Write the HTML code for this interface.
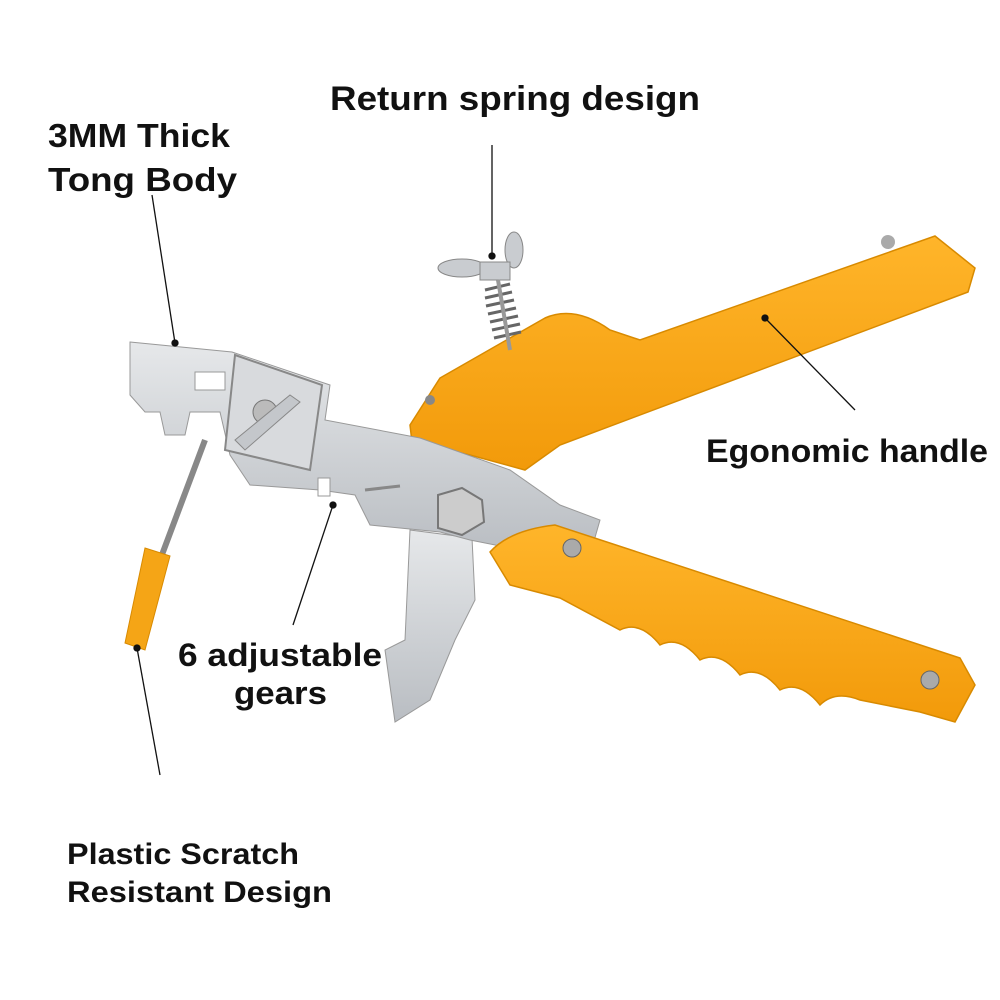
<!DOCTYPE html>
<html><head><meta charset="utf-8"><style>
html,body{margin:0;padding:0;background:#fff;}
svg{display:block;}
text{font-family:"Liberation Sans",sans-serif;font-weight:bold;fill:#111;}
</style></head><body>
<svg width="1000" height="1000" viewBox="0 0 1000 1000" xmlns="http://www.w3.org/2000/svg">
<defs>
<linearGradient id="met" x1="0" y1="0" x2="0" y2="1">
<stop offset="0" stop-color="#e6e8ea"/><stop offset="1" stop-color="#b9bdc2"/></linearGradient>
<linearGradient id="org" x1="0" y1="0" x2="0" y2="1">
<stop offset="0" stop-color="#ffb52a"/><stop offset="1" stop-color="#f29a0a"/></linearGradient>
</defs>

<!-- upper handle -->
<path d="M410,425 L440,378 L545,318 Q575,305 610,330 L640,340 L935,236 L975,268 L968,292 L560,445 L525,470 L470,455 L412,442 Z" fill="url(#org)" stroke="#d88a00" stroke-width="1.5"/>
<circle cx="888" cy="242" r="7" fill="#aaa"/>
<circle cx="430" cy="400" r="5" fill="#888"/>

<!-- spring + wing nut -->
<g stroke="#666" stroke-width="3" fill="none">
<path d="M485,290 L510,284 M485,298 L512,292 M486,306 L514,300 M488,314 L516,308 M490,322 L518,316 M492,330 L520,324 M494,338 L521,332"/>
</g>
<ellipse cx="462" cy="268" rx="24" ry="9" fill="#c9ccd0" stroke="#888"/>
<ellipse cx="514" cy="250" rx="9" ry="18" fill="#c9ccd0" stroke="#888"/>
<rect x="480" y="262" width="30" height="18" fill="#c9ccd0" stroke="#888"/>
<line x1="498" y1="280" x2="510" y2="350" stroke="#999" stroke-width="4"/>

<!-- lower jaw -->
<path d="M410,530 L472,538 L475,600 L455,640 L430,700 L395,722 L385,650 L405,640 Z" fill="url(#met)" stroke="#999"/>

<!-- main metal plate -->
<path d="M130,342 L232,352 L330,385 L325,420 L420,438 L510,470 L560,505 L600,520 L590,555 L510,548 L470,540 L440,532 L370,525 L355,495 L320,490 L250,485 L230,455 L220,412 L190,412 L185,435 L165,435 L160,412 L145,412 L130,395 Z" fill="url(#met)" stroke="#999"/>
<rect x="195" y="372" width="30" height="18" fill="#fff" stroke="#999"/>
<rect x="270" y="395" width="40" height="18" fill="#fff" stroke="#999"/>
<rect x="318" y="478" width="12" height="18" fill="#fff" stroke="#999"/>
<path d="M235,355 L322,385 L310,470 L225,450 Z" fill="#d8dadd" stroke="#888" stroke-width="2"/>
<circle cx="265" cy="412" r="12" fill="#bbb" stroke="#777"/>
<path d="M235,440 L290,395 L300,402 L245,450 Z" fill="#c4c7cb" stroke="#888"/>
<polygon points="438,495 462,488 482,500 484,522 462,535 438,528" fill="#ccc" stroke="#777" stroke-width="2"/>
<line x1="365" y1="490" x2="400" y2="486" stroke="#888" stroke-width="3"/>

<!-- lower handle -->
<path d="M490,552 Q510,530 555,525 L960,658 L975,685 L955,722 L920,712 L860,700 Q835,690 820,705 Q800,680 780,690 Q760,665 740,675 Q720,650 700,660 Q680,635 660,645 Q640,620 620,630 L560,598 L510,585 Z" fill="url(#org)" stroke="#d88a00" stroke-width="1.5"/>
<circle cx="572" cy="548" r="9" fill="#aaa" stroke="#666"/>
<circle cx="930" cy="680" r="9" fill="#aaa" stroke="#666"/>

<!-- rod and tip -->
<line x1="205" y1="440" x2="160" y2="560" stroke="#888" stroke-width="6"/>
<path d="M145,548 L170,556 L145,650 L125,643 Z" fill="#f5a516" stroke="#d88a00"/>

<!-- leader lines -->
<g stroke="#111" stroke-width="1.3" fill="#111">
<line x1="152" y1="195" x2="175" y2="343"/><circle cx="175" cy="343" r="3"/>
<line x1="492" y1="145" x2="492" y2="256"/><circle cx="492" cy="256" r="3"/>
<line x1="765" y1="318" x2="855" y2="410"/><circle cx="765" cy="318" r="3"/>
<line x1="333" y1="505" x2="293" y2="625"/><circle cx="333" cy="505" r="3"/>
<line x1="137" y1="648" x2="160" y2="775"/><circle cx="137" cy="648" r="3"/>
</g>

<!-- labels -->
<text x="330" y="110" font-size="34" textLength="370" lengthAdjust="spacingAndGlyphs">Return spring design</text>
<text x="48" y="147" font-size="33" textLength="182" lengthAdjust="spacingAndGlyphs">3MM Thick</text>
<text x="48" y="191" font-size="33" textLength="189" lengthAdjust="spacingAndGlyphs">Tong Body</text>
<text x="706" y="462" font-size="32" textLength="282" lengthAdjust="spacingAndGlyphs">Egonomic handle</text>
<text x="178" y="666" font-size="32" textLength="204" lengthAdjust="spacingAndGlyphs">6 adjustable</text>
<text x="234" y="704" font-size="32" textLength="93" lengthAdjust="spacingAndGlyphs">gears</text>
<text x="67" y="864" font-size="30" textLength="232" lengthAdjust="spacingAndGlyphs">Plastic Scratch</text>
<text x="67" y="902" font-size="30" textLength="265" lengthAdjust="spacingAndGlyphs">Resistant Design</text>
</svg>
</body></html>
